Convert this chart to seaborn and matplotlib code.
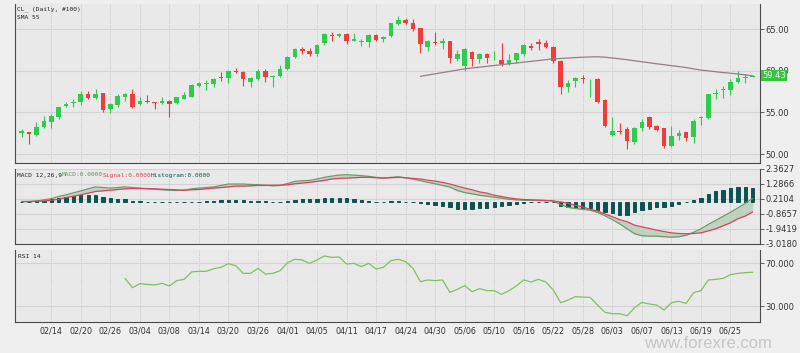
import numpy as np
import pandas as pd
import seaborn as sns
import matplotlib.pyplot as plt
from matplotlib import transforms

# daily candles, 100 bars
opens = [52.53, 52.61, 52.33, 53.25, 53.85, 54.41, 55.77, 56.18, 56.30, 57.18,
         56.70, 57.30, 55.37, 55.89, 56.90, 57.18, 55.97, 56.42, 56.26, 56.10,
         56.38, 56.10, 56.66, 56.90, 58.22, 58.42, 58.42, 59.30, 59.18, 59.99,
         59.87, 58.70, 58.98, 59.99, 59.30, 59.38, 60.23, 61.63, 62.59, 62.43,
         61.99, 63.32, 64.36, 64.20, 64.44, 63.64, 63.52, 63.44, 64.28, 63.80,
         64.24, 65.64, 66.12, 65.72, 65.12, 62.83, 63.52, 63.32, 63.60, 61.43,
         60.63, 62.31, 61.39, 61.99, 61.51, 61.31, 60.79, 61.31, 62.00, 63.03,
         63.52, 63.32, 62.91, 61.19, 58.10, 58.78, 59.18, 58.98, 59.06, 56.50,
         52.28, 52.77, 52.97, 51.48, 53.09, 54.49, 53.37, 53.09, 50.96, 52.16,
         52.61, 52.00, 54.37, 54.29, 57.18, 57.70, 57.70, 58.70, 59.18, 59.30]
highs = [52.97, 52.69, 53.85, 54.57, 54.77, 55.69, 56.30, 56.58, 57.62, 57.58,
         57.78, 57.38, 56.10, 57.18, 57.30, 57.82, 56.82, 57.10, 56.30, 56.90,
         56.50, 56.90, 57.50, 58.42, 58.70, 58.90, 59.10, 59.87, 60.11, 60.31,
         60.03, 59.30, 60.19, 60.19, 59.50, 60.71, 61.79, 62.71, 62.91, 62.71,
         63.19, 64.52, 64.72, 64.60, 64.52, 64.60, 63.80, 64.40, 64.40, 64.20,
         65.80, 66.60, 66.32, 66.20, 65.20, 63.72, 64.72, 63.92, 63.64, 62.51,
         62.71, 62.43, 62.19, 62.11, 62.39, 63.32, 62.03, 62.19, 63.24, 63.32,
         63.80, 63.72, 62.99, 61.31, 58.90, 59.30, 59.46, 59.02, 59.18, 56.58,
         54.49, 53.69, 53.29, 53.29, 54.21, 54.61, 53.49, 53.17, 53.37, 52.89,
         52.69, 54.17, 54.57, 57.22, 57.78, 58.18, 58.98, 59.99, 59.62, 59.46]
lows = [52.08, 51.16, 52.16, 53.09, 53.09, 54.17, 55.69, 55.61, 55.85, 56.58,
        56.62, 55.05, 54.89, 55.69, 56.42, 55.49, 55.89, 56.10, 55.37, 56.01,
        54.49, 56.01, 56.58, 56.82, 58.10, 57.70, 58.02, 58.82, 58.58, 59.71,
        58.22, 58.10, 58.90, 58.70, 58.10, 59.30, 60.11, 61.51, 62.03, 61.83,
        61.79, 63.11, 63.64, 64.04, 63.19, 63.56, 62.99, 62.91, 63.60, 63.48,
        64.12, 65.52, 65.64, 64.84, 62.19, 62.35, 63.11, 62.67, 60.91, 61.23,
        60.03, 60.63, 60.91, 60.91, 61.31, 60.59, 60.71, 60.91, 61.79, 62.51,
        62.51, 62.71, 60.99, 57.22, 57.50, 58.02, 58.58, 56.90, 56.18, 53.29,
        52.16, 52.41, 50.56, 51.20, 52.81, 52.97, 52.81, 50.68, 50.88, 51.68,
        51.60, 51.36, 53.49, 54.21, 56.58, 56.70, 57.10, 58.50, 58.58, 59.26]
closes = [52.77, 52.41, 53.29, 53.97, 54.53, 55.61, 56.05, 56.26, 57.18, 56.78,
          57.18, 55.29, 55.97, 56.94, 57.26, 55.65, 56.42, 56.30, 56.18, 56.42,
          56.05, 56.86, 57.06, 58.26, 58.50, 58.50, 58.98, 59.18, 59.99, 59.87,
          58.98, 59.10, 59.95, 59.30, 59.38, 60.19, 61.71, 62.59, 62.39, 62.03,
          63.11, 64.44, 64.24, 64.44, 63.64, 63.80, 63.60, 64.32, 63.72, 64.04,
          65.72, 66.12, 65.72, 65.00, 63.24, 63.56, 63.36, 63.64, 61.51, 61.99,
          62.63, 61.39, 61.99, 61.51, 61.59, 60.79, 61.31, 62.11, 63.11, 62.71,
          63.28, 62.91, 61.19, 58.10, 58.58, 59.18, 58.98, 59.02, 56.30, 53.41,
          52.81, 52.65, 51.60, 53.17, 53.89, 53.29, 52.89, 50.96, 52.16, 52.48,
          51.88, 54.00, 54.45, 57.18, 57.30, 57.82, 58.70, 59.18, 59.30, 59.43]

# SMA 55, drawn from bar 54 on
sma_start = 54
sma_55 = [59.35, 59.50, 59.65, 59.80, 59.95, 60.10, 60.25, 60.35, 60.45, 60.55,
          60.65, 60.75, 60.85, 60.95, 61.05, 61.15, 61.25, 61.35, 61.45, 61.50,
          61.55, 61.60, 61.65, 61.68, 61.70, 61.65, 61.55, 61.45, 61.35, 61.22,
          61.10, 60.98, 60.86, 60.75, 60.63, 60.52, 60.40, 60.25, 60.10, 60.00,
          59.90, 59.80, 59.72, 59.63, 59.52, 59.40]

# MACD 12,26,9
macd_line = [0.00, 0.00, 0.04, 0.12, 0.21, 0.36, 0.48, 0.62, 0.76, 0.91,
             1.05, 1.00, 0.96, 1.00, 1.05, 1.00, 0.96, 0.91, 0.88, 0.84,
             0.81, 0.79, 0.81, 0.91, 0.96, 1.00, 1.05, 1.15, 1.25, 1.25,
             1.25, 1.22, 1.20, 1.17, 1.12, 1.15, 1.29, 1.44, 1.49, 1.51,
             1.61, 1.73, 1.82, 1.89, 1.92, 1.89, 1.85, 1.80, 1.73, 1.68,
             1.73, 1.77, 1.70, 1.61, 1.49, 1.37, 1.27, 1.15, 1.03, 0.79,
             0.64, 0.55, 0.45, 0.38, 0.31, 0.24, 0.16, 0.12, 0.09, 0.09,
             0.09, 0.07, 0.04, -0.22, -0.42, -0.50, -0.56, -0.62, -0.78, -1.02,
             -1.30, -1.60, -1.95, -2.30, -2.45, -2.48, -2.48, -2.52, -2.55, -2.52,
             -2.42, -2.20, -1.95, -1.64, -1.35, -1.06, -0.77, -0.46, -0.13, 0.21]
signal_line = [0.00, 0.00, 0.02, 0.04, 0.09, 0.16, 0.28, 0.38, 0.48, 0.60,
               0.72, 0.76, 0.81, 0.86, 0.91, 0.93, 0.93, 0.93, 0.91, 0.88,
               0.86, 0.84, 0.81, 0.84, 0.86, 0.91, 0.96, 1.00, 1.05, 1.10,
               1.10, 1.12, 1.15, 1.15, 1.17, 1.17, 1.20, 1.27, 1.32, 1.37,
               1.44, 1.51, 1.61, 1.65, 1.68, 1.70, 1.73, 1.73, 1.70, 1.68,
               1.70, 1.73, 1.70, 1.65, 1.61, 1.53, 1.46, 1.37, 1.25, 1.10,
               0.96, 0.84, 0.69, 0.60, 0.45, 0.36, 0.26, 0.19, 0.14, 0.12,
               0.09, 0.07, 0.04, -0.03, -0.13, -0.27, -0.39, -0.56, -0.68, -0.89,
               -1.09, -1.30, -1.45, -1.69, -1.81, -1.93, -2.05, -2.15, -2.24, -2.29,
               -2.31, -2.29, -2.24, -2.10, -1.95, -1.74, -1.52, -1.23, -1.04, -0.75]
histogram = [0.00, -0.01, 0.02, 0.06, 0.18, 0.26, 0.33, 0.40, 0.45, 0.47,
             0.45, 0.33, 0.25, 0.20, 0.18, 0.06, 0.03, -0.02, -0.03, -0.04,
             -0.05, -0.07, -0.05, -0.03, 0.00, 0.04, 0.06, 0.09, 0.12, 0.10,
             0.08, 0.05, 0.03, 0.01, -0.02, -0.01, 0.06, 0.14, 0.17, 0.16,
             0.18, 0.22, 0.22, 0.23, 0.22, 0.17, 0.10, 0.04, 0.00, -0.03,
             0.02, 0.04, -0.03, -0.06, -0.14, -0.20, -0.28, -0.34, -0.42, -0.50,
             -0.52, -0.50, -0.47, -0.45, -0.40, -0.35, -0.28, -0.20, -0.12, -0.05,
             0.00, -0.02, -0.05, -0.30, -0.38, -0.42, -0.44, -0.48, -0.58, -0.72,
             -0.84, -0.94, -0.98, -0.75, -0.62, -0.52, -0.42, -0.36, -0.30, -0.20,
             -0.06, 0.10, 0.25, 0.52, 0.72, 0.86, 0.98, 1.04, 1.04, 1.00]

# RSI 14, drawn from bar 14 on
rsi_start = 14
rsi_14 = [55.9, 47.2, 50.9, 50.3, 49.7, 51.3, 48.8, 53.8, 55.0, 61.9,
          62.5, 62.5, 65.0, 66.3, 69.7, 67.8, 60.6, 60.6, 65.3, 60.0,
          60.6, 63.1, 70.6, 73.8, 73.1, 70.0, 73.1, 76.9, 75.6, 75.9,
          69.4, 70.0, 66.9, 70.0, 64.7, 66.3, 72.5, 73.8, 71.6, 65.3,
          52.8, 54.4, 53.8, 54.4, 42.8, 45.6, 49.1, 43.4, 46.3, 44.4,
          44.4, 40.9, 44.4, 48.8, 54.4, 52.5, 55.0, 52.5, 45.0, 33.1,
          35.6, 38.8, 38.4, 38.1, 30.9, 24.1, 22.8, 22.8, 20.9, 28.4,
          33.4, 31.9, 30.9, 26.3, 33.1, 34.4, 32.5, 42.5, 44.4, 54.4,
          55.0, 55.9, 59.4, 60.6, 61.3, 61.6]

date_labels = ['02/14', '02/20', '02/26', '03/04', '03/08', '03/14', '03/20',
               '03/26', '04/01', '04/05', '04/11', '04/17', '04/24', '04/30',
               '05/06', '05/10', '05/16', '05/22', '05/28', '06/03', '06/07',
               '06/13', '06/19', '06/25']

price_ticks = [50.0, 55.0, 60.0, 65.0]
macd_ticks = [-3.0180, -1.9419, -0.8657, 0.2104, 1.2866, 2.3627]
rsi_ticks = [30.0, 70.0]

sns.set_style("white")
narrow = ['Liberation Sans Narrow', 'DejaVu Sans']
mono = ['DejaVu Sans Mono']
plt.rcParams['font.family'] = narrow

UP, DOWN = '#2fcb4e', '#f23b3b'
BG = '#e9e9e9'

n = len(closes)
idx = np.arange(n)
bars = pd.DataFrame({'bar': idx, 'open': opens, 'high': highs, 'low': lows,
                     'close': closes, 'macd': macd_line, 'signal': signal_line,
                     'hist': histogram})
sma = pd.DataFrame({'bar': idx[sma_start:], 'sma': sma_55})
rsi = pd.DataFrame({'bar': idx[rsi_start:], 'rsi': rsi_14})
tick_pos = list(range(4, n, 4))[:len(date_labels)]

fig = plt.figure(figsize=(8, 3.53), dpi=100, facecolor='#efefef')
L, W = 15 / 800, 745 / 800
ax_p = fig.add_axes([L, 1 - 162.5 / 353, W, 158.5 / 353])
ax_m = fig.add_axes([L, 1 - 243.7 / 353, W, 75.2 / 353], sharex=ax_p)
ax_r = fig.add_axes([L, 1 - 321.7 / 353, W, 71.7 / 353], sharex=ax_p)


def style_axis(ax, yticks, fmt, show_dates=False):
    ax.set_facecolor(BG)
    ax.spines['top'].set_visible(False)
    for s in ['left', 'right', 'bottom']:
        ax.spines[s].set_color('#4a4a4a')
        ax.spines[s].set_linewidth(0.8)
    ax.yaxis.tick_right()
    ax.set_yticks(yticks)
    ax.set_yticklabels([fmt.format(v) for v in yticks])
    ax.set_xticks(tick_pos)
    ax.set_xticklabels(date_labels if show_dates else [])
    ax.tick_params(axis='y', direction='out', length=3, width=0.6, pad=1,
                   labelsize=6, colors='#4a4a4a', labelcolor='#333333')
    ax.tick_params(axis='x', direction='out', length=2.5, width=0.6, pad=1,
                   labelsize=5.8, colors='#4a4a4a', labelcolor='#333333',
                   labelbottom=show_dates)
    ax.grid(axis='y', color='#d3d3d3', lw=0.8, ls='-')
    ax.grid(axis='x', color='#bdbdbd', lw=0.6, ls=(0, (1, 1.5)))
    ax.set_axisbelow(True)
    ax.set_xlabel('')
    ax.set_ylabel('')


# price panel
colors = np.where(bars['close'] >= bars['open'], UP, DOWN)
ax_p.vlines(bars['bar'], bars['low'], bars['high'], colors=colors, lw=0.8)
body_low = np.minimum(bars['open'], bars['close'])
body_h = np.maximum((bars['close'] - bars['open']).abs(), 0.07)
ax_p.bar(bars['bar'], body_h, bottom=body_low, width=0.62, color=colors,
         linewidth=0)
sns.lineplot(data=sma, x='bar', y='sma', ax=ax_p, color='#977c84', lw=0.9)
ax_p.set_ylim(48.98, 68.05)
ax_p.set_xlim(-0.91, 100.0)
style_axis(ax_p, price_ticks, '{:.2f}')
blend = transforms.blended_transform_factory(ax_p.transAxes, ax_p.transData)
ax_p.text(1.003, closes[-1], f'{closes[-1]:.2f}', transform=blend,
          fontsize=6, color='#f4fff4', va='center', ha='left',
          bbox=dict(boxstyle='square,pad=0.15', fc='#37c33f', ec='none'))
ax_p.text(2 / 745, 0.97, 'CL_ (Daily, #100)', transform=ax_p.transAxes,
          fontsize=4.5, family=mono, color='#222222', va='center')
ax_p.text(2 / 745, 0.915, 'SMA 55', transform=ax_p.transAxes,
          fontsize=4.5, family=mono, color='#222222', va='center')

# MACD panel
ax_m.fill_between(bars['bar'], bars['macd'], bars['signal'],
                  color='#bccfbc', alpha=0.85, lw=0)
ax_m.bar(bars['bar'], bars['hist'], width=0.45, color='#0d5351',
         edgecolor='#0d5351', lw=0.7)
sns.lineplot(data=bars, x='bar', y='macd', ax=ax_m, color='#6a9a6a', lw=0.9)
sns.lineplot(data=bars, x='bar', y='signal', ax=ax_m, color='#d9425a', lw=0.9)
ax_m.set_ylim(macd_ticks[0], macd_ticks[-1])
style_axis(ax_m, macd_ticks, '{:.4f}')
header_y = 175
for x_px, txt, col in [(17, 'MACD 12,26,9', '#222222'),
                       (62, 'MACD:0.0000', '#5e935e'),
                       (103, 'Signal:0.0000', '#d9425a'),
                       (151, 'Histogram:0.0000', '#0d5351')]:
    fig.text(x_px / 800, 1 - header_y / 353, txt, fontsize=4.4, family=mono,
             color=col, va='center', ha='left')

# RSI panel
sns.lineplot(data=rsi, x='bar', y='rsi', ax=ax_r, color='#7cc35c', lw=0.9)
ax_r.set_ylim(15.3, 82.5)
style_axis(ax_r, rsi_ticks, '{:.3f}', show_dates=True)
fig.text(18 / 800, 1 - 256 / 353, 'RSI 14', fontsize=4.5, family=mono,
         color='#222222', va='center', ha='left')

fig.text(708 / 800, 1 - 348 / 353, 'www.forexre.com', fontsize=12,
         family=['Liberation Sans', 'DejaVu Sans'], color='#c6c6c6',
         ha='center', va='baseline')

fig.savefig('out.png', dpi=100, facecolor=fig.get_facecolor())
